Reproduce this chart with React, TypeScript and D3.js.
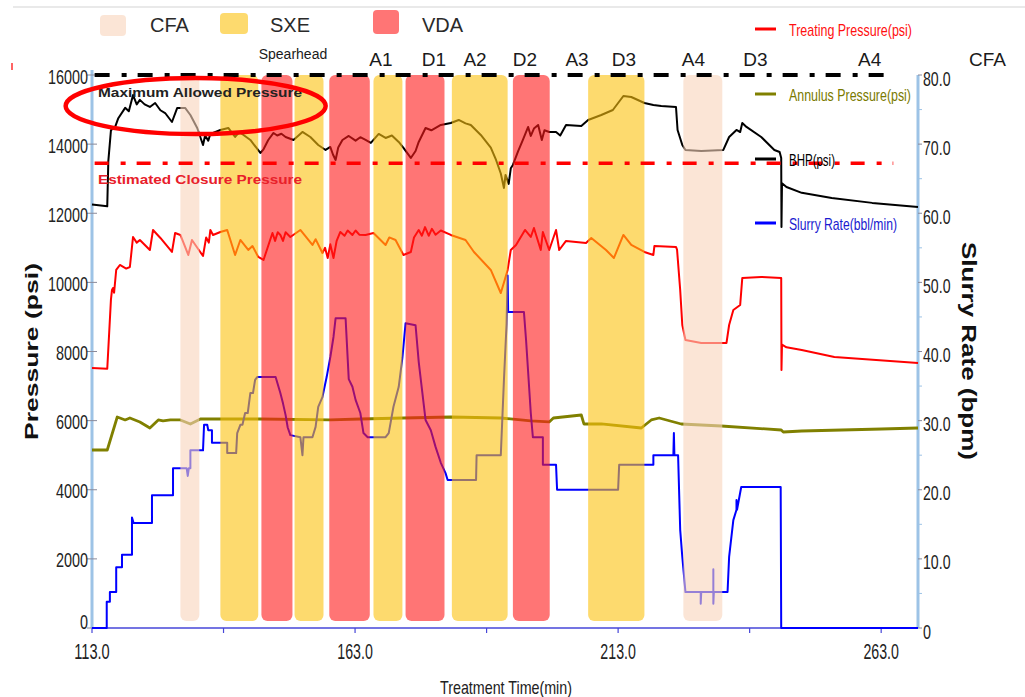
import React from 'react';
import * as d3 from 'd3';

// ---------- DATA ----------
// Bottom-hole pressure (psi)
const bhpTime = [113.0, 115.9, 116.1, 116.6, 117.4, 118.0, 119.3, 120.0, 120.8, 121.5, 122.1, 123.0, 124.0, 125.0, 126.0, 126.9, 128.2, 129.2, 130.7, 131.7, 133.0, 134.1, 134.5, 135.1, 135.5, 136.0, 137.4, 138.9, 140.2, 141.0, 141.8, 143.1, 145.0, 145.6, 146.5, 147.5, 148.2, 149.0, 149.8, 151.3, 153.0, 154.5, 156.0, 157.4, 158.3, 158.8, 159.3, 159.8, 160.6, 161.8, 163.1, 164.0, 165.0, 166.0, 167.5, 168.8, 170.0, 171.3, 172.2, 173.6, 174.5, 175.1, 176.4, 177.5, 179.3, 181.2, 182.7, 184.0, 185.0, 186.9, 188.8, 189.8, 190.7, 191.3, 191.6, 192.2, 192.6, 193.0, 194.0, 194.9, 195.9, 196.4, 197.0, 197.8, 198.5, 199.0, 199.9, 201.2, 202.0, 203.1, 206.0, 207.3, 209.8, 212.0, 214.0, 215.5, 218.0, 219.7, 221.2, 224.0, 224.3, 225.2, 225.8, 228.8, 233.0, 234.1, 235.5, 236.2, 236.6, 237.4, 240.2, 242.7, 243.7, 244.0, 244.05, 244.15, 245.0, 247.9, 253.6, 261.3, 270.0];
const bhpPsi = [12250, 12200, 13500, 14400, 14500, 14750, 15050, 14950, 15420, 15150, 15280, 15150, 15075, 15190, 14980, 14900, 14640, 15046, 15046, 14843, 14468, 13976, 14250, 14100, 14300, 14323, 14410, 14468, 14207, 14350, 14265, 14120, 13744, 13850, 14120, 14323, 14250, 14300, 14207, 14120, 14352, 14207, 13976, 13831, 13918, 13700, 13542, 13900, 14120, 14236, 14100, 14200, 14120, 14034, 14294, 14178, 14250, 14063, 13889, 13600, 13800, 14063, 14468, 14400, 14554, 14612, 14699, 14600, 14554, 14265, 13900, 13542, 13150, 12731, 13108, 12850, 13300, 13397, 13800, 14120, 14497, 14236, 14450, 14554, 14120, 14400, 14352, 14352, 14250, 14554, 14525, 14699, 14843, 14988, 15393, 15364, 15190, 15133, 15104, 15075, 14410, 13976, 13831, 13802, 13831, 14207, 14410, 14350, 14612, 14497, 14207, 13831, 13773, 13600, 11600, 12870, 12760, 12590, 12440, 12300, 12182];

// Treating pressure (psi)
const tpTime = [113.0, 115.9, 116.6, 116.8, 117.0, 117.2, 117.6, 118.3, 119.5, 120.2, 120.8, 121.5, 122.1, 124.0, 124.6, 126.0, 128.2, 128.8, 129.8, 131.3, 132.0, 134.1, 134.7, 135.2, 135.5, 136.0, 137.4, 138.7, 140.2, 141.2, 142.7, 143.5, 144.6, 145.6, 147.3, 147.8, 148.3, 148.8, 149.3, 149.8, 150.7, 152.6, 154.9, 155.5, 156.8, 157.3, 157.8, 158.3, 158.9, 159.5, 160.2, 161.0, 161.6, 162.5, 163.1, 163.8, 165.0, 166.5, 168.8, 169.5, 170.7, 172.2, 173.6, 174.2, 175.1, 175.7, 176.3, 177.0, 177.6, 178.3, 179.3, 181.2, 184.0, 185.6, 188.8, 190.7, 191.5, 192.0, 192.6, 193.6, 195.3, 196.4, 197.0, 198.3, 198.7, 199.9, 201.2, 201.8, 203.1, 206.9, 207.9, 210.7, 212.2, 214.0, 215.5, 218.0, 219.7, 219.9, 224.0, 224.2, 224.8, 225.2, 225.8, 228.8, 233.6, 234.1, 234.9, 236.2, 236.6, 240.2, 244.0, 244.05, 244.15, 245.0, 247.9, 254.1, 270.0];
const tpPsi = [7523, 7500, 9500, 9780, 9838, 9700, 10359, 10503, 10400, 10445, 11314, 11150, 11227, 10937, 11516, 11285, 10880, 11429, 11372, 10793, 11227, 10764, 11300, 11150, 11516, 11372, 11458, 11516, 10793, 11227, 10937, 11050, 10735, 10648, 11429, 11200, 11450, 11372, 11200, 11450, 11314, 11516, 11082, 11250, 10851, 11000, 10706, 11100, 10706, 11200, 11458, 11350, 11500, 11372, 11500, 11380, 11372, 11429, 11082, 11300, 11227, 10793, 10880, 11300, 11516, 11350, 11600, 11350, 11550, 11380, 11500, 11372, 11227, 10880, 10359, 9693, 10100, 10359, 10937, 11082, 11516, 11314, 11574, 10937, 11458, 10937, 11516, 10937, 11198, 11140, 11285, 10937, 10706, 11372, 11082, 10880, 10793, 11053, 11024, 10950, 9780, 8767, 8333, 8247, 8247, 8767, 9201, 9346, 10127, 10156, 10127, 7465, 8200, 8120, 8044, 7841, 7668];

// Annulus pressure (psi)
const apTime = [113.0, 115.9, 117.8, 119.3, 120.2, 122.1, 124.0, 125.6, 126.5, 127.9, 129.8, 131.7, 133.6, 145.0, 158.3, 164.0, 172.2, 181.2, 190.7, 196.4, 199.9, 200.7, 206.0, 206.5, 209.8, 217.4, 219.3, 220.8, 225.0, 232.6, 244.0, 244.4, 247.9, 263.1, 270.0];
const apPsi = [5150, 5150, 6105, 6019, 6076, 5961, 5787, 6019, 5990, 6019, 6019, 5903, 6047, 6047, 6019, 6047, 6076, 6105, 6076, 5990, 5961, 6076, 6163, 5903, 5903, 5787, 6019, 6076, 5903, 5845, 5729, 5671, 5700, 5758, 5787];

// Slurry rate (bbl/min)
const srTime = [113.0, 115.8, 115.8, 116.4, 116.4, 117.6, 117.6, 118.7, 118.7, 120.6, 120.6, 120.9, 124.4, 124.4, 128.4, 128.4, 131.0, 131.2, 131.4, 131.7, 131.7, 134.1, 134.3, 134.9, 135.1, 135.8, 135.8, 138.7, 138.7, 140.4, 140.6, 141.2, 141.6, 142.1, 142.6, 143.1, 143.6, 144.0, 144.4, 147.9, 148.8, 149.3, 149.8, 150.2, 150.7, 152.6, 153.0, 153.2, 154.9, 155.5, 156.0, 156.8, 157.6, 158.3, 158.9, 159.3, 161.2, 161.8, 162.5, 163.1, 164.0, 164.6, 165.4, 168.8, 169.4, 170.3, 171.3, 172.0, 172.6, 174.5, 175.1, 176.4, 177.4, 178.3, 179.3, 180.2, 180.6, 186.0, 186.1, 190.7, 191.3, 191.8, 192.0, 192.1, 195.1, 195.5, 196.4, 196.8, 198.7, 198.7, 201.2, 201.4, 213.0, 213.2, 219.7, 219.7, 223.5, 223.6, 223.7, 224.4, 224.8, 225.2, 225.8, 228.7, 228.7, 228.8, 231.1, 231.1, 231.1, 231.2, 233.8, 234.1, 234.9, 235.5, 235.5, 235.6, 236.4, 243.9, 244.0, 270.0];
const srRate = [0, 0, 3.8, 3.8, 5.2, 5.2, 8.8, 8.8, 10.6, 10.6, 16.0, 15.2, 15.2, 19.2, 19.2, 23.1, 23.1, 22.0, 23.1, 23.1, 25.7, 25.7, 29.4, 29.4, 28.6, 28.6, 26.8, 26.8, 25.3, 25.3, 28.2, 29.4, 29.4, 31.1, 31.1, 34.0, 34.0, 35.9, 36.3, 36.3, 34.0, 32.5, 30.8, 29.0, 27.9, 27.6, 25.0, 27.6, 27.6, 29.1, 32.0, 33.4, 36.3, 39.2, 42.1, 44.8, 44.8, 36.0, 34.9, 33.0, 31.1, 28.2, 27.6, 27.6, 28.2, 32.0, 34.9, 39.1, 44.1, 43.8, 38.5, 30.1, 28.6, 26.2, 23.9, 22.4, 21.4, 21.4, 25.0, 25.0, 35.9, 44.0, 51.0, 45.7, 45.7, 41.7, 31.1, 27.6, 27.6, 23.6, 23.6, 20.0, 20.0, 23.6, 23.6, 25.0, 25.0, 28.2, 25.0, 25.0, 14.2, 10.3, 5.2, 5.2, 3.5, 5.2, 5.2, 8.5, 3.5, 5.2, 5.2, 10.3, 15.6, 17.1, 18.5, 17.1, 20.4, 20.4, 0, 0];

// Fluid stages (shaded bands)
const bandType = ['CFA', 'SXE', 'VDA', 'SXE', 'VDA', 'SXE', 'VDA', 'SXE', 'VDA', 'SXE', 'CFA'];
const bandStart = [129.8, 137.4, 145.2, 151.5, 158.1, 166.5, 172.6, 181.4, 193.0, 207.3, 225.4];
const bandEnd = [133.4, 144.6, 151.1, 157.0, 165.8, 172.0, 180.0, 192.0, 200.0, 218.0, 232.8];

// Stage labels along the top
const stageNames = ['Spearhead', 'A1', 'D1', 'A2', 'D2', 'A3', 'D3', 'A4', 'D3', 'A4', 'CFA'];
const stageTimes = [151.2, 167.9, 178.0, 185.8, 195.3, 205.2, 214.1, 227.3, 239.1, 260.8, 283.2];

// Reference pressures
const maxAllowedPressure = 16000;
const closurePressure = 13450;

// Axis ticks
const pressureTicks = [0, 2000, 4000, 6000, 8000, 10000, 12000, 14000, 16000];
const rateTicks = [0, 10, 20, 30, 40, 50, 60, 70, 80];
const rateMinorTicks = [5, 15, 25, 35, 45, 55, 65, 75];
const timeTicks = [113, 138, 163, 188, 213, 238, 263];
const timeLabels = [113, 163, 213, 263];

const legendTypes = ['CFA', 'SXE', 'VDA'];
const seriesNames = ['Treating Pressure(psi)', 'Annulus Pressure(psi)', 'BHP(psi)', 'Slurry Rate(bbl/min)'];

// ---------- STYLE ----------
const bandFill: Record<string, string> = { CFA: 'rgb(248,212,187)', SXE: 'rgb(252,193,13)', VDA: 'rgb(255,25,25)' };
const BAND_OPACITY = 0.6;
const NARROW = "'Liberation Sans Narrow','Arial Narrow','Liberation Sans',Arial,sans-serif";
const SANS = "'Liberation Sans',Arial,sans-serif";

function numWidth(s: string) {
  let w = 0;
  for (const c of s) w += c === '.' ? 3.5 : 8;
  return w;
}

export default function App() {
  const x = d3.scaleLinear().domain([113, 270]).range([92, 918]);
  const yP = d3.scaleLinear().domain([0, 16000]).range([628, 75]);
  const yR = d3.scaleLinear().domain([0, 80]).range([628, 75]);

  const lineP = (ts: number[], vs: number[]) =>
    d3.line<number>().x((_, i) => x(ts[i])).y((v) => yP(v))(vs) || '';
  const lineR = (ts: number[], vs: number[]) =>
    d3.line<number>().x((_, i) => x(ts[i])).y((v) => yR(v))(vs) || '';

  const plotTop = yP(16000);
  const bandBottom = yP(0) - 7;

  const legendColors = ['#ff0000', '#808000', '#000000', '#0000ff'];
  const legendTextColors = ['#ff1010', '#7a7a00', '#000000', '#1a1ad0'];
  const legendYs = [30, 95, 160, 224];
  const legendText = [123, 122, 46, 108];

  return (
    <svg width={1025} height={697} style={{ position: 'absolute', left: 0, top: 0, background: '#fff' }}>
      {/* frame details */}
      <line x1={13} x2={1025} y1={7} y2={7} stroke="#e2e2e2" strokeWidth={1.5} />
      <line x1={12} x2={12} y1={63} y2={70} stroke="#ff3030" strokeWidth={1.5} />

      {/* axes */}
      <line x1={x(113)} x2={x(113)} y1={70} y2={yP(0)} stroke="#9dc3e6" strokeWidth={3} />
      <line x1={x(270)} x2={x(270)} y1={yR(80)} y2={yR(0)} stroke="#9dc3e6" strokeWidth={3} />
      <line x1={x(113)} x2={x(270)} y1={yP(0)} y2={yP(0)} stroke="#4646d8" strokeWidth={1.5} />
      {pressureTicks.map((p) => (
        <g key={'pt' + p}>
          <line x1={x(113) - 5} x2={x(113) + 5} y1={yP(p)} y2={yP(p)} stroke="#8a8a9a" strokeWidth={1} />
          <text x={88 - numWidth(String(p))} y={p === 0 ? yP(p) - 7 : yP(p) + 1} fontFamily={NARROW} fontSize={21} fill="#222"
            dominantBaseline="central" textLength={numWidth(String(p))} lengthAdjust="spacingAndGlyphs">{String(p)}</text>
        </g>
      ))}
      {rateTicks.map((r) => {
        const s = r === 0 ? '0' : r.toFixed(1);
        return (
          <g key={'rt' + r}>
            <line x1={x(270)} x2={x(270) + 4} y1={yR(r)} y2={yR(r)} stroke="#8a8a9a" strokeWidth={1} />
            <text x={923} y={yR(r) + 3} fontFamily={NARROW} fontSize={21} fill="#222"
              dominantBaseline="central" textLength={numWidth(s)} lengthAdjust="spacingAndGlyphs">{s}</text>
          </g>
        );
      })}
      {rateMinorTicks.map((r) => (
        <line key={'rm' + r} x1={x(270)} x2={x(270) + 4} y1={yR(r)} y2={yR(r)} stroke="#9dc3e6" strokeWidth={1} />
      ))}
      {timeTicks.map((t) => (
        <line key={'tt' + t} x1={x(t)} x2={x(t)} y1={yP(0)} y2={yP(0) + 5} stroke="#4646d8" strokeWidth={1.2} />
      ))}
      {timeLabels.map((t) => {
        const s = t.toFixed(1);
        const w = numWidth(s);
        return (
          <text key={'tl' + t} x={x(t) - w / 2} y={651} fontFamily={NARROW} fontSize={22} fill="#222"
            dominantBaseline="central" textLength={w} lengthAdjust="spacingAndGlyphs">{s}</text>
        );
      })}

      {/* axis titles */}
      <text transform={`translate(38,${352 + 88}) rotate(-90)`} x={0} y={0} fontFamily={SANS} fontWeight="bold"
        fontSize={19} fill="#111" textLength={177} lengthAdjust="spacingAndGlyphs">Pressure (psi)</text>
      <text transform={`translate(962,242) rotate(90)`} x={0} y={0} fontFamily={SANS} fontWeight="bold"
        fontSize={20} fill="#111" textLength={218} lengthAdjust="spacingAndGlyphs">Slurry Rate (bpm)</text>
      <text x={440} y={694} fontFamily={NARROW} fontSize={19} fill="#222" textLength={132}
        lengthAdjust="spacingAndGlyphs">Treatment Time(min)</text>

      {/* series */}
      <path d={lineP(apTime, apPsi)} fill="none" stroke="#808000" strokeWidth={2.8} strokeLinejoin="round" />
      <path d={lineP(tpTime, tpPsi)} fill="none" stroke="#ff0000" strokeWidth={2} strokeLinejoin="round" />
      <path d={lineP(bhpTime, bhpPsi)} fill="none" stroke="#000000" strokeWidth={2} strokeLinejoin="round" />
      <path d={lineR(srTime, srRate)} fill="none" stroke="#0000ff" strokeWidth={2} strokeLinejoin="round" />

      {/* stage bands */}
      {bandType.map((b, i) => (
        <rect key={'band' + i} x={x(bandStart[i])} width={x(bandEnd[i]) - x(bandStart[i])}
          y={plotTop} height={bandBottom - plotTop} rx={6} ry={6}
          fill={bandFill[b]} fillOpacity={BAND_OPACITY} />
      ))}

      {/* reference lines */}
      <line x1={x(113.5)} x2={x(265.3)} y1={yP(maxAllowedPressure)} y2={yP(maxAllowedPressure)}
        stroke="#000" strokeWidth={4} strokeDasharray="15,12,5,11" />
      <line x1={x(113.5)} x2={x(265.3)} y1={yP(closurePressure)} y2={yP(closurePressure)}
        stroke="#ff0000" strokeWidth={3.5} strokeDasharray="14,12,5,11" />
      <text x={98} y={92} fontFamily={SANS} fontWeight="bold" fontSize={13} fill="#222"
        dominantBaseline="central" textLength={204} lengthAdjust="spacingAndGlyphs">Maximum Allowed Pressure</text>
      <text x={98} y={179} fontFamily={SANS} fontWeight="bold" fontSize={13} fill="#e8202a"
        dominantBaseline="central" textLength={204} lengthAdjust="spacingAndGlyphs">Estimated Closure Pressure</text>

      {/* stage labels */}
      {stageNames.map((n, i) => (
        <text key={'st' + i} x={x(stageTimes[i])} y={i === 0 ? 54 : 59} textAnchor="middle"
          dominantBaseline="central" fontFamily={SANS} fontSize={i === 0 ? 14 : 19} fill="#1a1a1a">{n}</text>
      ))}

      {/* top legend */}
      {legendTypes.map((t, i) => {
        const sx = [100, 220, 373][i];
        const tx = [150, 270, 422][i];
        const sy = [15, 13, 10][i];
        return (
          <g key={'lg' + t}>
            <rect x={sx} y={sy} width={i === 1 ? 28 : 26} height={i === 2 ? 24 : 21} rx={4} ry={4}
              fill={bandFill[t]} fillOpacity={BAND_OPACITY} />
            <text x={tx} y={25} dominantBaseline="central" fontFamily={SANS} fontSize={20} fill="#2a2a2a">{t}</text>
          </g>
        );
      })}

      {/* right legend */}
      {seriesNames.map((n, i) => (
        <g key={'sl' + i}>
          <line x1={755} x2={776} y1={legendYs[i] - 1} y2={legendYs[i] - 1} stroke={legendColors[i]} strokeWidth={3} />
          <text transform={`translate(789,${legendYs[i]}) scale(1,1.36)`} x={0} y={0} dominantBaseline="central"
            fontFamily={NARROW} fontSize={12.5}
            fill={legendTextColors[i]} textLength={legendText[i]} lengthAdjust="spacingAndGlyphs">{n}</text>
        </g>
      ))}

      {/* highlight ellipse */}
      <ellipse cx={x(132.7)} cy={yP(15100)} rx={130} ry={28} fill="none" stroke="#ff0000" strokeWidth={4.5} />
    </svg>
  );
}
